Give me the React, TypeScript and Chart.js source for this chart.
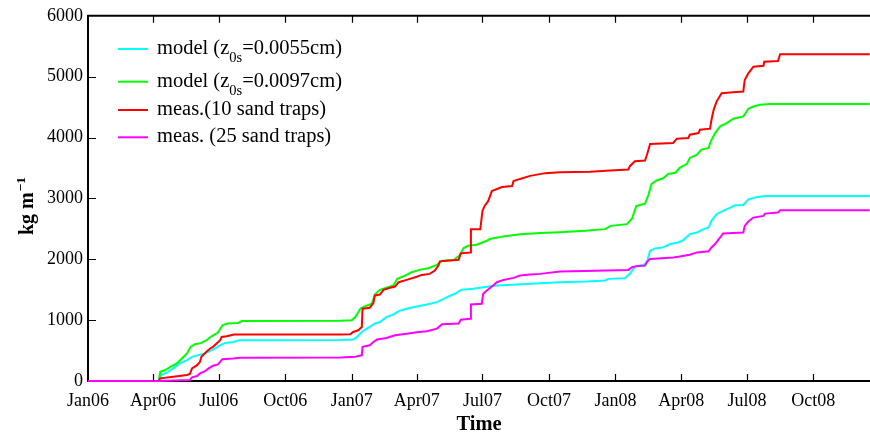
import { useEffect, useRef } from "react";
import { Chart, registerables } from "chart.js";

Chart.register(...registerables);

// Time axis: days counted from 1 Jan 2006
const tickDays = [0, 90, 181, 273, 365, 455, 546, 638, 730, 821, 912, 1004];
const tickLabels = ["Jan06", "Apr06", "Jul06", "Oct06", "Jan07", "Apr07", "Jul07", "Oct07", "Jan08", "Apr08", "Jul08", "Oct08"];
const dayMax = 1082.4;
const yTicks = [0, 1000, 2000, 3000, 4000, 5000, 6000];

// Cumulative transport, kg m^-1 — [day, value]
const modelLowZ0: [number, number][] = [
  [0, 0], [98, 0], [101, 98], [109, 136], [118, 207], [127, 289], [137, 343], [144, 397], [153, 425],
  [162, 453], [169, 495], [176, 534], [183, 588], [190, 626], [201, 642], [210, 670], [349, 672],
  [367, 680], [372, 720], [379, 806], [386, 861], [397, 943], [404, 969], [413, 1050], [423, 1095],
  [430, 1149], [441, 1188], [455, 1225], [469, 1258], [483, 1296], [497, 1377], [508, 1433], [517, 1500],
  [533, 1515], [547, 1541], [566, 1569], [593, 1585], [626, 1606], [653, 1623], [690, 1634], [716, 1650],
  [720, 1678], [743, 1688], [750, 1760], [757, 1879], [773, 1923], [778, 2141], [785, 2178], [796, 2195],
  [806, 2250], [817, 2276], [824, 2315], [833, 2413], [843, 2440], [852, 2495], [859, 2521], [863, 2631],
  [870, 2740], [879, 2794], [889, 2848], [896, 2886], [907, 2892], [914, 2985], [926, 3023], [939, 3039],
  [1082, 3039],
];

const modelHighZ0: [number, number][] = [
  [0, 0], [98, 0], [100, 152], [107, 180], [114, 234], [123, 289], [130, 371], [137, 453], [142, 561],
  [148, 605], [157, 626], [164, 670], [171, 735], [180, 795], [186, 915], [193, 943], [208, 953],
  [213, 985], [349, 990], [365, 997], [370, 1050], [377, 1188], [383, 1225], [393, 1270], [397, 1421],
  [404, 1498], [413, 1531], [423, 1569], [428, 1678], [436, 1716], [448, 1786], [460, 1830], [471, 1852],
  [483, 1907], [490, 1977], [506, 1988], [514, 2059], [520, 2185], [526, 2222], [538, 2239], [552, 2304],
  [556, 2332], [577, 2380], [598, 2410], [626, 2430], [653, 2445], [688, 2467], [716, 2495], [723, 2549],
  [746, 2577], [753, 2670], [759, 2876], [771, 2913], [776, 3067], [780, 3240], [787, 3294], [796, 3330],
  [803, 3400], [813, 3421], [819, 3502], [829, 3567], [833, 3665], [843, 3720], [849, 3802], [859, 3829],
  [862, 3938], [868, 4074], [875, 4183], [884, 4237], [893, 4308], [907, 4346], [914, 4472], [921, 4510],
  [930, 4537], [944, 4550], [1082, 4550],
];

const meas10Traps: [number, number][] = [
  [0, 0], [98, 0], [100, 44], [118, 70], [137, 98], [141, 114], [144, 207], [151, 261], [155, 315],
  [157, 397], [164, 479], [169, 534], [173, 561], [178, 616], [183, 670], [185, 724], [192, 735],
  [202, 763], [349, 765], [363, 768], [367, 806], [374, 833], [379, 887], [380, 1188], [390, 1204],
  [395, 1279], [397, 1405], [404, 1421], [409, 1498], [418, 1531], [425, 1552], [430, 1623], [441, 1661],
  [453, 1704], [462, 1743], [473, 1760], [480, 1814], [485, 1895], [487, 1966], [497, 1977], [513, 1993],
  [516, 2097], [529, 2113], [530, 2495], [543, 2495], [546, 2794], [549, 2876], [554, 2958], [559, 3121],
  [573, 3186], [587, 3203], [589, 3284], [598, 3320], [612, 3370], [633, 3415], [653, 3431], [695, 3436],
  [723, 3459], [748, 3475], [750, 3529], [757, 3611], [771, 3622], [774, 3730], [778, 3894], [810, 3911],
  [815, 3982], [831, 3993], [833, 4047], [845, 4074], [847, 4128], [861, 4145], [863, 4292], [866, 4455],
  [870, 4591], [877, 4728], [893, 4744], [907, 4755], [909, 4946], [914, 5055], [921, 5163], [935, 5180],
  [936, 5245], [955, 5256], [958, 5370], [1082, 5370],
];

const meas25Traps: [number, number][] = [
  [0, 0], [98, 0], [141, 16], [144, 60], [151, 82], [155, 125], [162, 163], [167, 207], [173, 250],
  [180, 272], [183, 315], [186, 359], [201, 371], [210, 381], [349, 385], [370, 397], [379, 425],
  [380, 561], [390, 588], [395, 642], [400, 681], [413, 708], [425, 752], [441, 778], [455, 801],
  [469, 817], [483, 861], [490, 931], [513, 943], [516, 1008], [529, 1024], [530, 1258], [545, 1270],
  [547, 1433], [552, 1487], [559, 1552], [566, 1623], [575, 1661], [589, 1694], [598, 1732], [612, 1748],
  [626, 1760], [653, 1797], [718, 1814], [748, 1825], [753, 1868], [759, 1885], [771, 1895], [773, 1949],
  [778, 2004], [810, 2031], [817, 2042], [833, 2075], [843, 2113], [859, 2130], [863, 2195], [868, 2250],
  [875, 2358], [879, 2423], [907, 2440], [909, 2549], [914, 2619], [921, 2685], [935, 2712], [937, 2750],
  [955, 2767], [958, 2805], [1082, 2805],
];

const seriesColors = ["#00ffff", "#00ff00", "#ff0000", "#ff00ff"];
// Legend text split around the subscript
const legendEntries = [
  { pre: "model (z", sub: "0s", post: "=0.0055cm)" },
  { pre: "model (z", sub: "0s", post: "=0.0097cm)" },
  { pre: "meas.(10 sand traps)", sub: "", post: "" },
  { pre: "meas. (25 sand traps)", sub: "", post: "" },
];
const legendRowY = [49, 81.7, 110, 137.3];

const SERIF = "'Liberation Serif', 'Times New Roman', serif";

const frameAndLabels = {
  id: "frameAndLabels",
  afterDraw(chart: any) {
    const { ctx, chartArea, scales } = chart;
    const { left, right, top, bottom } = chartArea;
    const xs = scales.x;
    const ys = scales.y;
    ctx.save();
    ctx.strokeStyle = "#000";
    ctx.lineWidth = 2;
    ctx.beginPath();
    ctx.moveTo(left - 1, top);
    ctx.lineTo(right, top);
    ctx.stroke();

    ctx.lineWidth = 1.2;
    ctx.beginPath();
    tickDays.forEach((d, i) => {
      if (i === 0) return;
      const px = Math.round(xs.getPixelForValue(d)) + 0.5;
      ctx.moveTo(px, bottom);
      ctx.lineTo(px, bottom - 7);
      ctx.moveTo(px, top);
      ctx.lineTo(px, top + 7);
    });
    yTicks.forEach((v) => {
      if (v === 0 || v === 6000) return;
      const py = Math.round(ys.getPixelForValue(v)) + 0.5;
      ctx.moveTo(left, py);
      ctx.lineTo(left + 8, py);
    });
    ctx.stroke();

    // legend
    ctx.textBaseline = "alphabetic";
    ctx.fillStyle = "#000";
    legendEntries.forEach((e, i) => {
      const y = legendRowY[i];
      ctx.strokeStyle = seriesColors[i];
      ctx.lineWidth = 2;
      ctx.beginPath();
      ctx.moveTo(118, y);
      ctx.lineTo(148, y);
      ctx.stroke();
      let x = 157;
      const base = y + 5;
      ctx.font = `20.5px ${SERIF}`;
      ctx.fillText(e.pre, x, base);
      x += ctx.measureText(e.pre).width;
      if (e.sub) {
        ctx.font = `14.5px ${SERIF}`;
        ctx.fillText(e.sub, x, base + 8);
        x += ctx.measureText(e.sub).width;
        ctx.font = `20.5px ${SERIF}`;
        ctx.fillText(e.post, x, base);
      }
    });

    // axis titles
    ctx.font = `bold 20.5px ${SERIF}`;
    ctx.textAlign = "center";
    ctx.textBaseline = "middle";
    ctx.fillText("Time", (left + right) / 2, 425);

    ctx.translate(27, 206);
    ctx.rotate(-Math.PI / 2);
    ctx.font = `bold 20px ${SERIF}`;
    const main = "kg m";
    const mainW = ctx.measureText(main).width;
    ctx.font = `bold 13.5px ${SERIF}`;
    const sup = "\u22121";
    const supW = ctx.measureText(sup).width;
    const start = -(mainW + supW + 1) / 2;
    ctx.textAlign = "left";
    ctx.textBaseline = "alphabetic";
    ctx.font = `bold 20px ${SERIF}`;
    ctx.fillText(main, start, 6);
    ctx.font = `bold 13.5px ${SERIF}`;
    ctx.fillText(sup, start + mainW + 1, -2);
    ctx.restore();
  },
};

export default function App() {
  const canvasRef = useRef<HTMLCanvasElement | null>(null);

  useEffect(() => {
    document.body.style.margin = "0";
    const canvas = canvasRef.current;
    if (!canvas) return;
    const series = [modelLowZ0, modelHighZ0, meas10Traps, meas25Traps];
    const chart = new Chart(canvas, {
      type: "line",
      data: {
        datasets: series.map((s, i) => ({
          label: legendEntries[i].pre + legendEntries[i].sub + legendEntries[i].post,
          data: s.map(([x, y]) => ({ x, y })),
          borderColor: seriesColors[i],
          backgroundColor: seriesColors[i],
          borderWidth: 2,
          pointRadius: 0,
          tension: 0,
          fill: false,
          clip: false as any,
          order: 3 - i,
        })),
      },
      options: {
        animation: false,
        responsive: false,
        devicePixelRatio: 1,
        layout: { padding: { top: 14, right: 0, left: 0, bottom: 0 } },
        plugins: { legend: { display: false }, tooltip: { enabled: false } },
        scales: {
          x: {
            type: "linear",
            min: 0,
            max: dayMax,
            afterBuildTicks: (scale: any) => {
              scale.ticks = tickDays.map((v) => ({ value: v }));
            },
            afterFit: (scale: any) => {
              scale.height = 58;
            },
            grid: { display: false, drawTicks: false },
            border: { display: true, color: "#000", width: 2 },
            ticks: {
              color: "#000",
              padding: 9,
              maxRotation: 0,
              autoSkip: false,
              font: { family: SERIF, size: 18 },
              callback: (v: any) => {
                const idx = tickDays.indexOf(Number(v));
                return idx >= 0 ? tickLabels[idx] : "";
              },
            },
          },
          y: {
            type: "linear",
            min: 0,
            max: 6000,
            afterBuildTicks: (scale: any) => {
              scale.ticks = yTicks.map((v) => ({ value: v }));
            },
            afterFit: (scale: any) => {
              scale.width = 88;
            },
            grid: { display: false, drawTicks: false },
            border: { display: true, color: "#000", width: 2 },
            ticks: {
              color: "#000",
              padding: 5,
              font: { family: SERIF, size: 18 },
              callback: (v: any) => String(v),
            },
          },
        },
      },
      plugins: [frameAndLabels],
    });
    return () => chart.destroy();
  }, []);

  return (
    <div style={{ width: 870, height: 439, background: "#fff" }}>
      <canvas ref={canvasRef} width={870} height={439} />
    </div>
  );
}
